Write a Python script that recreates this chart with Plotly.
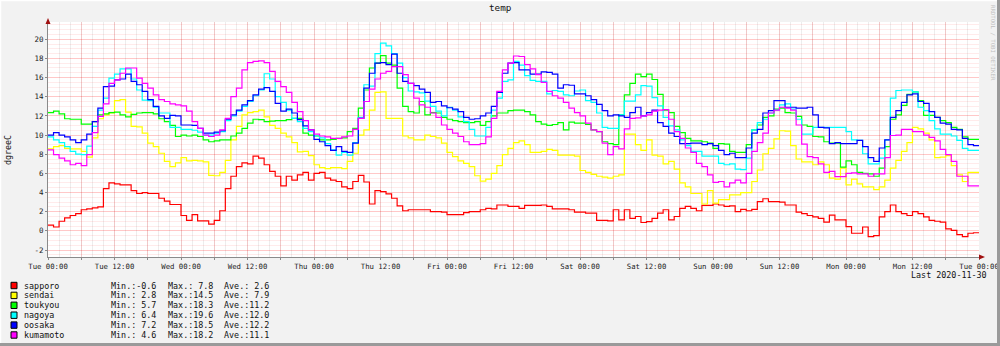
import pandas as pd
import plotly.graph_objects as go

# ---------------- data (hourly, Tue 2020-11-24 00:00 .. Tue 2020-12-01 00:00) ----------------
start = "2020-11-24 00:00"
end = "2020-12-01 00:00"

names = ["sapporo", "sendai", "toukyou", "nagoya", "oosaka", "kumamoto"]
colors = ["#FF0000", "#FFFF00", "#00FF00", "#00FFFF", "#0000FF", "#FF00FF"]
mins = ["-0.6", " 2.8", " 5.7", " 6.4", " 7.2", " 4.6"]
maxs = [" 7.8", "14.5", "18.3", "19.6", "18.5", "18.2"]
aves = [" 2.6", " 7.9", "11.2", "12.0", "12.2", "11.1"]

sapporo = [
    0.6, 0.4, 1.0, 1.35, 1.6, 1.8, 2.2, 2.3, 2.4, 2.5,
    4.4, 5.0, 4.9, 4.8, 4.8, 4.2, 3.9, 4.0, 3.9, 3.9,
    3.4, 3.1, 2.75, 2.75, 1.6, 1.1, 1.7, 1.05, 1.05, 0.7,
    1.1, 2.1, 4.4, 5.7, 6.7, 7.1, 7.0, 7.8, 7.6, 6.9,
    6.2, 5.7, 4.7, 5.7, 5.3, 5.85, 6.1, 5.3, 6.0, 6.1,
    5.5, 5.3, 5.15, 4.6, 4.4, 5.15, 5.8, 5.1, 2.8, 4.2,
    4.1, 3.85, 3.4, 2.6, 2.1, 2.2, 2.2, 2.2, 2.2, 2.0,
    2.0, 1.95, 1.7, 1.7, 1.7, 1.9, 2.0, 2.0, 2.2, 2.35,
    2.3, 2.7, 2.7, 2.55, 2.55, 2.35, 2.65, 2.65, 2.65, 2.7,
    2.55, 2.3, 2.3, 2.3, 2.2, 1.95, 1.95, 1.85, 1.85, 1.1,
    1.1, 1.05, 2.2, 1.15, 2.2, 1.3, 1.5, 0.87, 0.97, 1.3,
    1.85, 2.2, 1.15, 1.5, 2.35, 2.55, 2.35, 2.1, 2.65, 2.65,
    2.8, 2.7, 2.55, 2.6, 2.0, 2.25, 2.1, 2.25, 3.05, 3.35,
    3.05, 3.05, 3.0, 2.7, 2.7, 1.95, 1.8, 1.6, 1.45, 1.3,
    0.9, 1.65, 1.15, 1.15, 0.45, -0.25, -0.25, 0.4, -0.6, -0.5,
    1.45, 2.0, 2.7, 2.0, 1.8, 1.6, 2.0, 1.8, 1.45, 1.1,
    1.0, 0.9, 0.2, 0.05, -0.4, -0.6, -0.25, -0.2,
]
sendai = [
    8.55, 8.8, 8.9, 8.6, 8.55, 8.55, 8.3, 7.7, 9.7, 11.7,
    12.1, 12.3, 13.6, 13.7, 12.4, 10.9, 10.85, 10.2, 9.15, 8.8,
    8.1, 7.25, 6.7, 7.1, 7.65, 7.3, 7.35, 7.3, 7.2, 5.8,
    5.75, 6.1, 7.35, 9.5, 10.9, 12.1, 12.35, 12.45, 12.6, 11.9,
    11.0, 10.7, 10.2, 9.8, 9.2, 8.25, 8.3, 7.85, 6.9, 6.6,
    6.5, 6.6, 6.6, 6.5, 7.25, 8.1, 10.0, 10.55, 12.6, 14.45,
    14.5, 11.75, 11.75, 11.75, 9.9, 9.7, 9.5, 9.5, 10.0, 9.85,
    9.7, 9.15, 8.2, 7.75, 7.3, 7.05, 6.7, 5.75, 5.2, 5.4,
    6.0, 6.8, 7.95, 8.6, 9.2, 9.4, 9.0, 8.2, 8.2, 8.3,
    8.5, 8.4, 7.9, 7.9, 7.9, 7.8, 6.3, 6.1, 5.9, 5.7,
    5.6, 5.5, 5.7, 5.85, 10.1, 10.1, 9.0, 8.4, 9.5, 7.9,
    7.8, 7.0, 7.25, 6.45, 5.0, 4.6, 3.9, 3.9, 2.8, 4.2,
    2.9, 3.25, 3.25, 3.75, 3.75, 4.0, 4.0, 5.15, 6.35, 8.05,
    8.6, 9.6, 10.45, 10.4, 8.9, 7.5, 7.2, 7.2, 6.9, 7.2,
    6.9, 5.5, 5.4, 6.55, 4.8, 5.4, 4.9, 4.6, 4.6, 4.3,
    4.6, 5.3, 6.55, 7.35, 8.3, 9.2, 10.8, 10.65, 10.2, 9.5,
    7.65, 7.7, 7.85, 6.8, 5.85, 5.15, 6.1, 6.1,
]
toukyou = [
    12.35, 12.5, 12.2, 11.7, 11.65, 11.65, 11.15, 11.15, 11.4, 12.1,
    12.2, 12.35, 12.4, 12.1, 11.9, 12.15, 12.3, 12.35, 12.35, 12.2,
    11.7, 11.4, 11.0, 9.85, 10.0, 9.9, 10.0, 9.85, 9.5, 9.3,
    9.4, 9.5, 9.5, 9.9, 10.2, 10.7, 11.25, 11.65, 11.6, 11.4,
    11.45, 11.5, 11.5, 11.6, 11.75, 11.75, 10.2, 10.0, 9.9, 9.5,
    9.5, 9.55, 9.65, 9.7, 10.35, 10.7, 12.8, 14.7, 17.0, 17.5,
    18.3, 17.5, 17.3, 14.9, 13.0, 12.45, 12.3, 13.5, 12.1, 12.35,
    12.3, 11.85, 11.65, 11.5, 11.4, 11.3, 11.3, 11.4, 11.0, 11.4,
    12.0, 12.3, 12.3, 12.55, 12.6, 12.6, 12.45, 12.1, 11.4, 11.15,
    11.0, 11.1, 11.3, 10.55, 11.35, 11.25, 11.25, 11.1, 10.55, 10.35,
    9.3, 9.1, 9.0, 12.1, 14.2, 15.4, 16.35, 16.1, 16.35, 15.8,
    14.25, 12.6, 12.35, 10.9, 10.25, 9.65, 9.4, 9.4, 9.3, 9.15,
    8.6, 9.1, 9.05, 8.3, 8.2, 8.2, 9.0, 10.55, 11.05, 11.85,
    12.0, 12.7, 12.8, 12.35, 12.3, 11.95, 11.05, 10.9, 9.85, 9.8,
    9.3, 9.15, 9.15, 6.65, 7.3, 6.9, 6.1, 6.0, 5.95, 5.7,
    6.55, 8.8, 11.65, 12.1, 13.1, 14.25, 14.5, 13.6, 12.05, 12.05,
    11.85, 11.5, 11.3, 10.8, 10.6, 9.8, 9.55, 9.55,
]
nagoya = [
    9.8, 9.5, 9.2, 8.8, 8.3, 8.0, 7.95, 8.85, 10.9, 12.6,
    13.85, 15.95, 16.35, 16.9, 16.9, 15.85, 14.7, 13.65, 13.6, 12.9,
    12.3, 12.3, 10.8, 10.8, 10.6, 10.6, 10.5, 10.3, 10.0, 10.0,
    10.2, 10.35, 11.5, 12.0, 12.5, 13.0, 13.5, 14.1, 14.7, 16.4,
    15.85, 14.0, 13.4, 12.6, 11.75, 11.4, 10.7, 10.35, 9.9, 9.7,
    9.1, 8.45, 7.9, 8.2, 7.9, 9.2, 11.85, 15.25, 15.1, 18.5,
    19.6, 19.3, 18.5, 17.5, 16.0, 14.6, 14.5, 14.4, 13.55, 13.0,
    12.5, 12.0, 12.9, 12.6, 11.9, 11.4, 10.6, 9.9, 9.9, 10.8,
    12.6, 13.85, 15.6, 15.75, 17.7, 17.3, 16.2, 15.7, 15.6, 15.6,
    14.3, 14.65, 14.55, 14.2, 14.1, 14.6, 14.7, 13.6, 13.4, 12.3,
    10.8, 10.7, 10.7, 12.1, 13.55, 13.55, 14.2, 15.15, 15.1, 13.9,
    13.05, 11.85, 10.95, 10.55, 9.5, 8.9, 8.3, 8.3, 7.8, 7.8,
    7.8, 7.05, 6.9, 7.0, 6.45, 6.4, 7.6, 10.55, 11.3, 11.65,
    12.3, 12.6, 13.15, 13.25, 12.7, 11.65, 10.1, 10.1, 10.8, 10.8,
    10.8, 10.8, 10.8, 10.8, 10.35, 9.5, 9.45, 8.05, 7.0, 7.0,
    7.6, 9.5, 13.85, 14.65, 14.7, 14.7, 14.5, 12.9, 12.55, 11.5,
    10.65, 10.1, 10.1, 9.9, 9.45, 8.6, 8.4, 8.4,
]
oosaka = [
    10.0, 10.25, 10.0, 9.8, 9.5, 9.2, 9.5, 10.1, 11.4, 12.8,
    15.05, 15.1, 15.75, 15.85, 16.35, 15.6, 15.25, 14.55, 13.7, 13.0,
    12.0, 11.75, 12.05, 12.0, 11.05, 11.05, 11.0, 10.7, 10.2, 10.2,
    10.3, 10.45, 11.65, 12.1, 12.6, 13.15, 13.6, 14.2, 14.8, 14.95,
    14.55, 13.3, 12.5, 12.7, 12.3, 11.6, 10.95, 10.55, 9.55, 9.3,
    8.9, 8.4, 8.8, 8.3, 8.2, 9.15, 11.75, 14.9, 16.45, 17.5,
    17.55, 17.35, 18.45, 16.45, 15.6, 15.4, 15.15, 14.8, 14.45, 13.4,
    13.5, 13.05, 12.85, 12.7, 12.45, 11.85, 11.65, 11.7, 12.0, 12.3,
    13.0, 14.45, 16.45, 17.5, 17.55, 16.8, 16.8, 16.35, 16.35, 16.6,
    16.55, 16.35, 14.9, 15.25, 15.2, 14.3, 14.3, 14.1, 13.7, 13.2,
    12.55, 12.0, 12.1, 12.0, 11.85, 12.35, 12.9, 12.0, 12.35, 12.6,
    11.3, 10.9, 10.2, 9.85, 9.1, 9.1, 9.15, 9.15, 9.0, 9.1,
    8.9, 8.4, 7.95, 8.1, 7.65, 7.65, 8.65, 10.2, 10.6, 12.3,
    12.55, 13.6, 13.6, 12.9, 12.9, 12.8, 12.8, 12.9, 12.1, 10.8,
    10.75, 9.1, 9.2, 9.1, 9.1, 9.1, 9.45, 8.8, 7.65, 7.25,
    8.65, 9.5, 11.85, 12.55, 13.4, 14.2, 14.3, 13.5, 13.3, 12.45,
    11.85, 11.25, 11.15, 10.6, 10.55, 9.65, 9.0, 8.9,
]
kumamoto = [
    8.45, 7.95, 7.6, 7.3, 6.9, 7.05, 6.8, 7.95, 10.25, 11.95,
    13.25, 15.4, 15.75, 16.45, 17.0, 17.0, 15.95, 15.4, 14.9, 14.2,
    13.7, 13.5, 13.25, 13.15, 13.05, 12.5, 11.4, 10.7, 10.0, 9.85,
    10.0, 10.55, 11.75, 14.0, 14.9, 16.8, 17.55, 17.7, 17.75, 17.55,
    16.65, 15.6, 15.05, 14.45, 13.4, 12.45, 11.5, 10.55, 10.1, 9.9,
    9.8, 9.65, 9.65, 9.8, 9.9, 10.6, 11.75, 13.5, 14.8, 15.85,
    16.45, 16.65, 17.15, 17.15, 16.3, 15.4, 13.85, 13.15, 12.9, 12.3,
    11.85, 11.05, 10.6, 10.2, 9.85, 9.3, 9.0, 9.0, 9.1, 9.8,
    11.75, 14.55, 16.8, 17.5, 18.25, 18.2, 17.35, 16.9, 16.3, 15.5,
    14.55, 14.1, 13.85, 13.4, 12.8, 12.35, 12.0, 11.25, 10.55, 10.35,
    9.15, 7.95, 8.8, 8.55, 10.65, 11.75, 11.8, 12.0, 12.1, 12.5,
    12.6, 12.65, 11.65, 10.35, 9.65, 8.65, 8.2, 7.05, 6.7, 5.85,
    5.05, 5.15, 4.6, 5.0, 5.3, 5.0, 6.0, 8.3, 9.2, 10.2,
    12.3, 12.6, 12.9, 12.8, 12.6, 11.05, 9.05, 7.75, 7.65, 7.0,
    6.1, 6.2, 5.65, 5.65, 6.0, 6.05, 5.95, 5.95, 5.7, 5.95,
    5.95, 7.65, 9.95, 10.0, 10.6, 10.6, 10.35, 10.35, 10.0, 9.75,
    9.4, 8.5, 7.95, 7.25, 5.7, 5.7, 4.7, 4.7,
]
series = [sapporo, sendai, toukyou, nagoya, oosaka, kumamoto]

y_ticks = [-2, 0, 2, 4, 6, 8, 10, 12, 14, 16, 18, 20]
title_text = "temp"
unit_text = "dgreeC"
last_text = "Last 2020-11-30"
watermark = "RRDTOOL / TOBI OETIKER"

# ---------------- geometry ----------------
W, H = 1000, 346
L, R, T, B = 48, 21, 22, 89
PW, PH = W - L - R, H - T - B


def px(x):
    return (x - L) / PW


def py(y):
    return (H - B - y) / PH


times = list(pd.date_range(start, periods=len(sapporo), freq="h"))
x_step = times + [pd.Timestamp(end)]

fig = go.Figure()
for name, col, vals in zip(names, colors, series):
    fig.add_trace(go.Scatter(
        x=x_step, y=list(vals) + [vals[-1]], mode="lines", name=name,
        line=dict(color=col, width=1.2, shape="hv"), hoverinfo="skip"))

tick6 = list(pd.date_range(start, end, freq="6h"))
tick_text = [t.strftime("%a %H:%M") if t.hour % 12 == 0 else "" for t in tick6]

MONO = "DejaVu Sans Mono"
major_grid = "rgba(255,0,0,0.15)"
fig.update_xaxes(
    type="date", range=[start, end], tickmode="array", tickvals=tick6, ticktext=tick_text,
    tickfont=dict(family=MONO, size=7.3, color="#222"), showgrid=True, gridcolor=major_grid,
    gridwidth=1, showline=True, linecolor="#8a8a8a", linewidth=1, ticks="outside",
    ticklen=2, tickcolor="#8a8a8a", zeroline=False, fixedrange=True,
    minor=dict(tickmode="linear", tick0=start, dtick=2 * 3600 * 1000, showgrid=True,
               gridcolor="rgba(0,0,0,0.07)", gridwidth=1, ticks=""),
)
fig.update_yaxes(
    range=[-2.73, 21.8], tickmode="array", tickvals=y_ticks, ticktext=[str(v) for v in y_ticks],
    tickfont=dict(family=MONO, size=7.5, color="#222"), showgrid=True, gridcolor=major_grid,
    gridwidth=1, showline=True, linecolor="#8a8a8a", linewidth=1, ticks="outside",
    ticklen=2, tickcolor="#8a8a8a", zeroline=False, fixedrange=True,
    minor=dict(tickmode="linear", tick0=0, dtick=0.5, showgrid=True,
               gridcolor="rgba(255,0,0,0.08)", gridwidth=1, ticks=""),
)

shapes = []
# axis arrows
shapes.append(dict(type="path", xref="paper", yref="paper",
                   path=f"M {px(L-2.5)} {py(24)} L {px(L+2.5)} {py(24)} L {px(L)} {py(18)} Z",
                   fillcolor="#A01010", line=dict(width=0)))
xe = W - R
shapes.append(dict(type="path", xref="paper", yref="paper",
                   path=f"M {px(xe)} {py(H-B-2.5)} L {px(xe)} {py(H-B+2.5)} L {px(xe+6)} {py(H-B)} Z",
                   fillcolor="#A01010", line=dict(width=0)))
# frame (3d look)
shapes.append(dict(type="line", xref="paper", yref="paper", x0=px(0), x1=px(W), y0=py(0.5), y1=py(0.5),
                   line=dict(color="#FFFFFF", width=1.5)))
shapes.append(dict(type="line", xref="paper", yref="paper", x0=px(0.5), x1=px(0.5), y0=py(0), y1=py(H),
                   line=dict(color="#FFFFFF", width=1.5)))
shapes.append(dict(type="line", xref="paper", yref="paper", x0=px(0), x1=px(W), y0=py(H - 1.5), y1=py(H - 1.5),
                   line=dict(color="#9A9A9A", width=3)))
shapes.append(dict(type="line", xref="paper", yref="paper", x0=px(W - 1.5), x1=px(W - 1.5), y0=py(0), y1=py(H),
                   line=dict(color="#9A9A9A", width=3)))

annotations = [
    dict(text=title_text, x=px(500), y=py(8), font=dict(family=MONO, size=9.3, color="#111")),
    dict(text=unit_text, x=px(8), y=py(150), textangle=-90, font=dict(family=MONO, size=8.3, color="#111")),
    dict(text=last_text, x=px(988), y=py(274.5), xanchor="right", font=dict(family=MONO, size=8.4, color="#111")),
    dict(text=watermark, x=px(993), y=py(43), textangle=90, font=dict(family=MONO, size=5.7, color="#BEBEBE")),
]

row0, dy = 285.5, 9.9
for i, (name, col) in enumerate(zip(names, colors)):
    yc = row0 + i * dy
    shapes.append(dict(type="rect", xref="paper", yref="paper", x0=px(11), x1=px(17),
                       y0=py(yc - 3.2), y1=py(yc + 3.2), fillcolor=col, line=dict(color="#000", width=1)))
    for xx, txt in [(22.5, name), (109.5, "Min.:" + mins[i]), (166.7, "Max.:" + maxs[i]),
                    (223.3, "Ave.:" + aves[i])]:
        annotations.append(dict(text=txt, x=px(xx), y=py(yc), xanchor="left",
                                font=dict(family=MONO, size=8.4, color="#111")))

for a in annotations:
    a.setdefault("xref", "paper")
    a.setdefault("yref", "paper")
    a.setdefault("showarrow", False)
    a.setdefault("yanchor", "middle")
    a.setdefault("xanchor", "center")
    a.setdefault("borderpad", 0)

fig.update_layout(
    width=W, height=H, margin=dict(l=L, r=R, t=T, b=B, pad=0, autoexpand=False),
    paper_bgcolor="#F2F2F2", plot_bgcolor="#FFFFFF", showlegend=False,
    font=dict(family=MONO, size=8.4, color="#111"),
    shapes=shapes, annotations=annotations,
)
fig.write_html("out.html", config={"displayModeBar": False})
